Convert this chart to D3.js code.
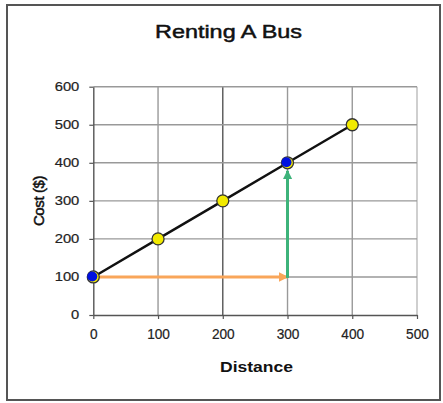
<!DOCTYPE html>
<html><head><meta charset="utf-8">
<script src="https://cdn.jsdelivr.net/npm/d3@7"></script>
<style>body{margin:0;background:#fff}svg{display:block}text{font-family:"Liberation Sans",Arial,sans-serif}</style>
</head><body>
<svg id="c" width="443" height="403"></svg>
<script>
const distances = [0, 100, 200, 300, 400];
const costs = [100, 200, 300, 400, 500];
const highlighted = [0, 300];
const xTicks = [0, 100, 200, 300, 400, 500];
const yTicks = [0, 100, 200, 300, 400, 500, 600];
const arrowH = {from: [0, 100], to: [300, 100]};
const arrowV = {from: [300, 100], to: [300, 400]};

const svg = d3.select("#c");
svg.append("rect").attr("x", 7).attr("y", 5).attr("width", 433).attr("height", 395)
  .attr("fill", "#fff").attr("stroke", "#555").attr("stroke-width", 2);

const x = d3.scaleLinear().domain([0, 500]).range([93.3, 417]);
const y = d3.scaleLinear().domain([0, 600]).range([315, 86.7]);

const defs = svg.append("defs");
function marker(id, color) {
  defs.append("marker").attr("id", id).attr("viewBox", "0 0 10 10").attr("refX", 9).attr("refY", 5)
    .attr("markerWidth", 3.2).attr("markerHeight", 3.2).attr("orient", "auto")
    .attr("markerUnits", "strokeWidth")
    .append("path").attr("d", "M0,0L10,5L0,10z").attr("fill", color);
}
marker("mo", "#f9a65a");
marker("mg", "#3db37a");

const g = svg.append("g");
g.selectAll(".vg").data(xTicks.slice(1)).join("line")
  .attr("x1", d => x(d)).attr("x2", d => x(d)).attr("y1", y(600)).attr("y2", y(0))
  .attr("stroke", d => d === 200 ? "#555" : (d === 500 ? "#bbb" : "#999")).attr("stroke-width", 1.4);
g.selectAll(".hg").data(yTicks.slice(1)).join("line")
  .attr("x1", x(0)).attr("x2", x(500)).attr("y1", d => y(d)).attr("y2", d => y(d))
  .attr("stroke", "#999").attr("stroke-width", 1.4);

const xAxis = svg.append("g").attr("transform", `translate(0,${y(0)})`)
  .call(d3.axisBottom(x).tickValues(xTicks).tickSize(4).tickSizeOuter(0).tickPadding(10));
const yAxis = svg.append("g").attr("transform", `translate(${x(0)},0)`)
  .call(d3.axisLeft(y).tickValues(yTicks).tickSize(4).tickSizeOuter(0).tickPadding(10));
[xAxis, yAxis].forEach(a => {
  a.select(".domain").attr("stroke", "#555").attr("stroke-width", 1.4);
  a.selectAll(".tick line").attr("stroke", "#555").attr("stroke-width", 1.2);
});
xAxis.selectAll("text").attr("font-size", 14).attr("fill", "#222")
  .attr("stroke", "#222").attr("stroke-width", 0.2)
  .attr("textLength", function() { return this.textContent.length * 7.6; })
  .attr("lengthAdjust", "spacingAndGlyphs");
yAxis.selectAll("text").attr("font-size", 12).attr("fill", "#222")
  .attr("stroke", "#222").attr("stroke-width", 0.2)
  .attr("textLength", function() { return this.textContent.length * 8.2; })
  .attr("lengthAdjust", "spacingAndGlyphs");

svg.append("path").datum(distances.map((d, i) => [d, costs[i]]))
  .attr("d", d3.line().x(d => x(d[0])).y(d => y(d[1])))
  .attr("fill", "none").attr("stroke", "#111").attr("stroke-width", 2.4);

svg.append("line").attr("x1", x(arrowH.from[0])).attr("y1", y(arrowH.from[1]))
  .attr("x2", x(arrowH.to[0])).attr("y2", y(arrowH.to[1]))
  .attr("stroke", "#f9a65a").attr("stroke-width", 3).attr("marker-end", "url(#mo)");
svg.append("line").attr("x1", x(arrowV.from[0])).attr("y1", y(arrowV.from[1]) + 1)
  .attr("x2", x(arrowV.to[0])).attr("y2", y(arrowV.to[1]) + 8)
  .attr("stroke", "#3db37a").attr("stroke-width", 3).attr("marker-end", "url(#mg)");

svg.selectAll(".pt").data(distances.map((d, i) => [d, costs[i]])).join("circle")
  .attr("cx", d => x(d[0])).attr("cy", d => y(d[1])).attr("r", 6)
  .attr("fill", "#f2ea00").attr("stroke", "#333").attr("stroke-width", 1.3);
svg.selectAll(".hp").data(distances.map((d, i) => [d, costs[i]]).filter(d => highlighted.includes(d[0]))).join("circle")
  .attr("cx", d => x(d[0]) - 1).attr("cy", d => y(d[1]) - 0.5).attr("r", 5)
  .attr("fill", "#0010e0");

svg.append("text").attr("x", 228.5).attr("y", 37.5).attr("text-anchor", "middle")
  .attr("font-size", 19).attr("fill", "#111")
  .attr("textLength", 147).attr("lengthAdjust", "spacingAndGlyphs")
  .attr("stroke", "#111").attr("stroke-width", 0.5).text("Renting A Bus");
svg.append("text").attr("x", 256.5).attr("y", 372).attr("text-anchor", "middle")
  .attr("font-size", 15.5).attr("font-weight", "bold").attr("fill", "#111")
  .attr("textLength", 73).attr("lengthAdjust", "spacingAndGlyphs").text("Distance");
svg.append("text").attr("transform", "translate(44,201) rotate(-90)").attr("text-anchor", "middle")
  .attr("font-size", 15).attr("fill", "#111").attr("letter-spacing", -0.4)
  .attr("stroke", "#111").attr("stroke-width", 0.5).text("Cost ($)");
</script>
</body></html>
